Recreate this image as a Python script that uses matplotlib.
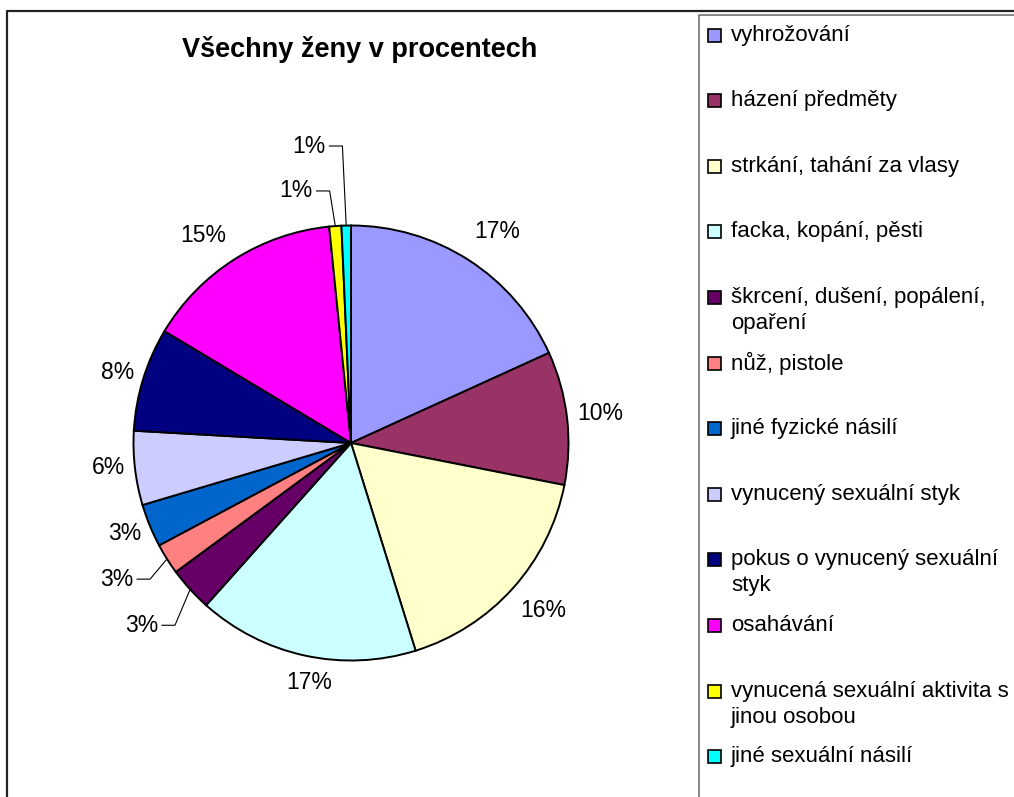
import numpy as np
import matplotlib
matplotlib.use("Agg")
import matplotlib.pyplot as plt
from matplotlib.patches import Rectangle
from matplotlib.lines import Line2D

plt.rcParams['font.family'] = ['Liberation Sans', 'DejaVu Sans']

# ---------------- data ----------------
title = "Všechny ženy v procentech"
categories = [
    "vyhrožování",
    "házení předměty",
    "strkání, tahání za vlasy",
    "facka, kopání, pěsti",
    "škrcení, dušení, popálení,\nopaření",
    "nůž, pistole",
    "jiné fyzické násilí",
    "vynucený sexuální styk",
    "pokus o vynucený sexuální\nstyk",
    "osahávání",
    "vynucená sexuální aktivita s\njinou osobou",
    "jiné sexuální násilí",
]
values = [18.2, 9.9, 17.1, 16.4, 3.3, 2.3, 3.2, 5.5, 7.7, 14.8, 0.9, 0.7]
pct_labels = ["17%", "10%", "16%", "17%", "3%", "3%", "3%", "6%", "8%", "15%", "1%", "1%"]
colors = ["#9999FF", "#993366", "#FFFFCC", "#CCFFFF", "#660066", "#FF8080",
          "#0066CC", "#CCCCFF", "#000080", "#FF00FF", "#FFFF00", "#00FFFF"]

# label placement (radius multiples, angle shift in degrees, leader line flag)
label_dist = [1.18, 1.153, 1.17, 1.12, 1.165, 1.116, 1.12, 1.12, 1.12, 1.17, 1.163, 1.366]
label_shift = [-1.9, 0.2, 0.9, 2.3, 3.7, 1.9, -0.4, -1.0, 0.2, 3.0, 0.7, 0.4]
label_leader = [False, False, False, False, True, True, False, False, False, False, True, True]

# ---------------- figure ----------------
W, H = 1014, 797
fig = plt.figure(figsize=(W / 100, H / 100), dpi=100)
ax = fig.add_axes([0, 0, 1, 1])

cx, cy, R = 351, H - 443, 217.5

wedges, _ = ax.pie(values, colors=colors, startangle=90, counterclock=False,
                   center=(cx, cy), radius=R, frame=True,
                   wedgeprops=dict(edgecolor="black", linewidth=1.4))

total = sum(values)
cum = np.cumsum([0] + values[:-1])
for i, v in enumerate(values):
    mid = 90 - 360 * (cum[i] + v / 2) / total
    a = np.deg2rad(mid + label_shift[i])
    px = cx + label_dist[i] * R * np.cos(a)
    py = cy + label_dist[i] * R * np.sin(a)
    if label_leader[i]:
        am = np.deg2rad(mid)
        ex, ey = cx + R * np.cos(am), cy + R * np.sin(am)
        ax.add_line(Line2D([px - 13, px, ex], [py, py, ey], color="black", lw=0.8))
        ax.text(px - 17, py, pct_labels[i], ha="right", va="center", fontsize=16.5)
    else:
        ax.text(px, py, pct_labels[i], ha="center", va="center", fontsize=16.5)

# title
ax.text(360, H - 49, title, ha="center", va="center", fontsize=19.5, fontweight="bold")

# outer chart border
ax.add_line(Line2D([7, 7, W], [0, H - 11, H - 11], color="#222222", lw=1.6))

# legend box
ax.add_line(Line2D([699, 699, W], [0, H - 15, H - 15], color="#666666", lw=1.1))

leg_y0, leg_step = 35, 65.6
for i, (lab, col) in enumerate(zip(categories, colors)):
    y = H - (leg_y0 + i * leg_step)
    ax.add_patch(Rectangle((708, y - 6.5), 13, 13, facecolor=col, edgecolor="black", lw=1.2))
    for j, line in enumerate(lab.split("\n")):
        ax.text(731, y - j * 26, line, ha="left", va="center", fontsize=16)

ax.set_xlim(0, W)
ax.set_ylim(0, H)
ax.axis("off")

fig.savefig("out.png", dpi=100, facecolor="white")
